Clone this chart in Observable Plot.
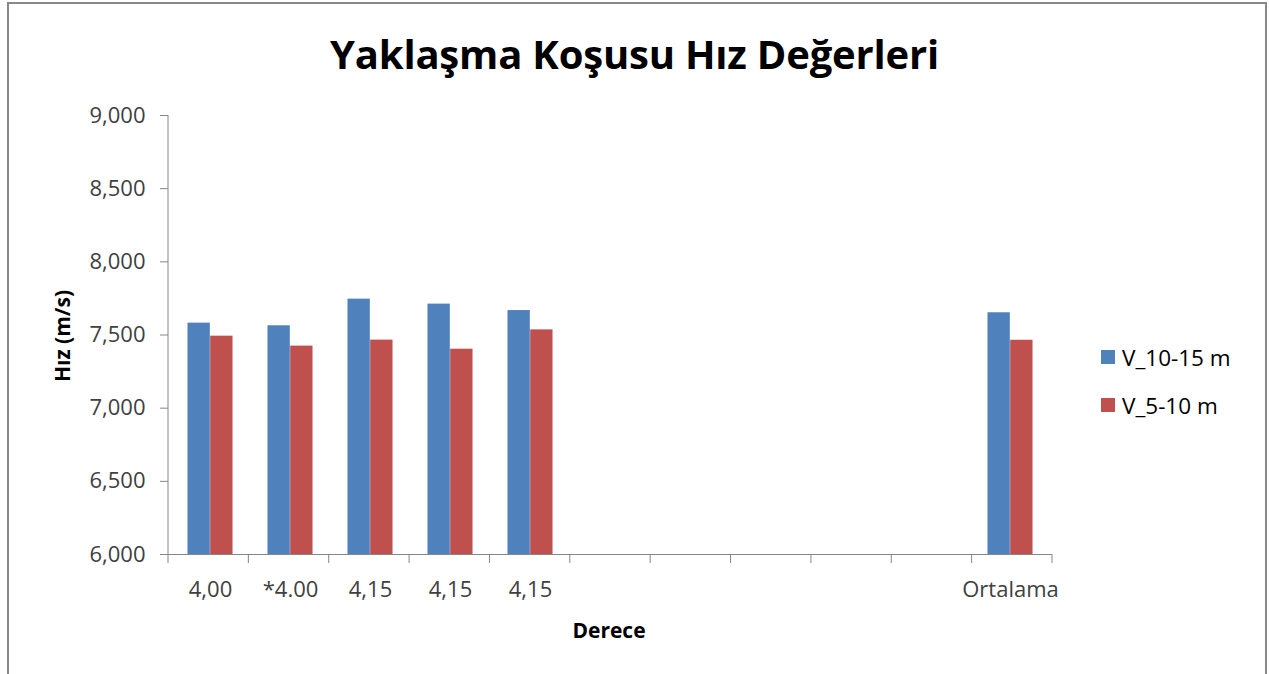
<!DOCTYPE html>
<html>
<head>
<meta charset="utf-8">
<script src="https://cdn.jsdelivr.net/npm/d3@7"></script>
<script src="https://cdn.jsdelivr.net/npm/@observablehq/plot@0.6"></script>
<style>
  body { margin: 0; background: #fff; }
  #wrap { position: relative; width: 1269px; height: 674px; overflow: hidden; font-family: "Open Sans", sans-serif; background: #fff; }
  #border { position: absolute; left: 7px; top: 2px; width: 1260px; height: 740px; border: 2px solid #888; box-sizing: border-box; }
  #chart { position: absolute; left: 0; top: 0; }
  #title { position: absolute; left: 0; width: 1269px; top: 34px; text-align: center; font-weight: 700; font-size: 40px; line-height: 1; color: #000; letter-spacing: -0.2px; }
  #ylab { position: absolute; left: 62px; top: 336px; transform: translate(-50%, -50%) rotate(-90deg); font-weight: 700; font-size: 21px; line-height: 1; white-space: nowrap; color: #000; }
  #xlab { position: absolute; left: 609px; top: 630px; transform: translate(-50%, -50%); font-weight: 700; font-size: 21px; line-height: 1; white-space: nowrap; color: #000; }
  #legend { position: absolute; left: 1101px; top: 347px; }
  .li { display: flex; align-items: center; height: 20px; margin-bottom: 28px; font-size: 22.5px; color: #000; white-space: nowrap; }
  .sw { width: 14px; height: 14px; margin-right: 7px; }
</style>
</head>
<body>
<div id="wrap">
  <div id="chart"></div>
  <div id="border"></div>
  <div id="title"></div>
  <div id="ylab"></div>
  <div id="xlab"></div>
  <div id="legend"></div>
</div>
<script>
// ---- data ----
const titleText = "Yaklaşma Koşusu Hız Değerleri";
const yTitle = "Hız (m/s)";
const xTitle = "Derece";
const categories = ["4,00", "*4.00", "4,15", "4,15", "4,15", "", "", "", "", "", "Ortalama"];
const seriesNames = ["V_10-15 m", "V_5-10 m"];
const v10_15 = [7581, 7563, 7745, 7711, 7667, null, null, null, null, null, 7652];
const v5_10  = [7492, 7424, 7465, 7403, 7535, null, null, null, null, null, 7464];
const yTicks = [6000, 6500, 7000, 7500, 8000, 8500, 9000];
const colors = ["#4F81BD", "#C0504D"];

// ---- layout ----
const W = 1269, H = 674, mL = 168, mR = 217, mT = 115, mB = 120;
const bw = (W - mL - mR) / categories.length;
const barW = 22.7;
const yMin = yTicks[0], yMax = yTicks[yTicks.length - 1];

const rows = categories.map((c, i) => ({key: String(i), label: c, a: v10_15[i], b: v5_10[i]}));

const plot = Plot.plot({
  width: W, height: H,
  marginLeft: mL, marginRight: mR, marginTop: mT, marginBottom: mB,
  style: {fontFamily: "Open Sans", fontSize: "22px", color: "#404040", background: "transparent"},
  x: {type: "band", domain: rows.map(d => d.key), padding: 0, tickSize: 0, tickPadding: 27,
      tickFormat: k => categories[+k], label: null},
  y: {domain: [yMin, yMax], ticks: yTicks, tickSize: 8, tickPadding: 15, tickFormat: d3.format(","), label: null},
  marks: [
    Plot.barY(rows.filter(d => d.a != null), {x: "key", y1: yMin, y2: "a", fill: colors[0],
      insetLeft: bw / 2 - barW, insetRight: bw / 2}),
    Plot.barY(rows.filter(d => d.b != null), {x: "key", y1: yMin, y2: "b", fill: colors[1],
      insetLeft: bw / 2, insetRight: bw / 2 - barW}),
    Plot.ruleY([yMin], {stroke: "#868686", strokeWidth: 1})
  ]
});
document.getElementById("chart").appendChild(plot);

// axis line colours and category boundary ticks, from the plot's own scales
const svg = d3.select(plot);
svg.selectAll('[aria-label^="y-axis"] line, [aria-label^="y-axis"] path').attr("stroke", "#868686");
const xs = plot.scale("x"), ys = plot.scale("y");
const r0 = xs.range[0], r1 = xs.range[1], n = xs.domain.length, step = (r1 - r0) / n;
const yBase = ys.range[0], yTop = ys.range[1];
svg.append("line").attr("x1", r0).attr("x2", r0).attr("y1", Math.min(yBase, yTop)).attr("y2", Math.max(yBase, yTop))
  .attr("stroke", "#868686");
svg.append("g").selectAll("line").data(d3.range(n + 1)).join("line")
  .attr("x1", i => r0 + i * step).attr("x2", i => r0 + i * step)
  .attr("y1", Math.max(yBase, yTop)).attr("y2", Math.max(yBase, yTop) + 9)
  .attr("stroke", "#868686");

document.getElementById("title").textContent = titleText;
document.getElementById("ylab").textContent = yTitle;
document.getElementById("xlab").textContent = xTitle;
const leg = d3.select("#legend");
seriesNames.forEach((s, i) => {
  const li = leg.append("div").attr("class", "li");
  li.append("div").attr("class", "sw").style("background", colors[i]);
  li.append("span").text(s);
});
</script>
</body>
</html>
